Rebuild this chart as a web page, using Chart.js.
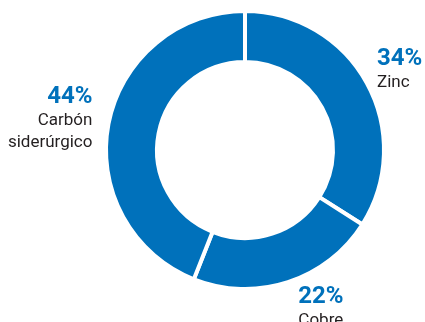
<!DOCTYPE html>
<html>
<head>
<meta charset="utf-8">
<script src="https://cdn.jsdelivr.net/npm/chart.js@4"></script>
<style>
  html, body { margin: 0; padding: 0; background: #fff; }
  #wrap { width: 425px; height: 322px; }
</style>
</head>
<body>
<div id="wrap"><canvas id="mix"></canvas></div>
<script>
// values
const categories = ['Zinc', 'Cobre', 'Carbón siderúrgico'];
const shares = [34, 22, 44];
const nameLines = [['Zinc'], ['Cobre'], ['Carbón', 'siderúrgico']];

const BLUE = '#0071bb';

// label placement relative to each slice's outer mid point
const labelPlace = [
  { dx: 12, dy: -19, align: 'left' },
  { dx: 11, dy: 23, align: 'left' },
  { dx: -18, dy: -21, align: 'right' }
];

const outsideLabels = {
  id: 'outsideLabels',
  afterDatasetsDraw(chart) {
    const ctx = chart.ctx;
    const arcs = chart.getDatasetMeta(0).data;
    ctx.save();
    ctx.textBaseline = 'alphabetic';
    arcs.forEach((arc, i) => {
      const mid = (arc.startAngle + arc.endAngle) / 2;
      const r = arc.outerRadius - 2;
      const ax = arc.x + Math.cos(mid) * r;
      const ay = arc.y + Math.sin(mid) * r;
      const p = labelPlace[i];
      const x = ax + p.dx;
      let y = ay + p.dy;
      ctx.textAlign = p.align;
      ctx.fillStyle = BLUE;
      ctx.font = 'bold 24px Roboto';
      ctx.fillText(shares[i] + '%', x, y);
      ctx.fillStyle = '#231f20';
      ctx.font = '17px Roboto';
      nameLines[i].forEach(line => {
        y += 22;
        ctx.fillText(line, x, y);
      });
    });
    ctx.restore();
  }
};

new Chart(document.getElementById('mix').getContext('2d'), {
  type: 'doughnut',
  data: {
    labels: categories,
    datasets: [{
      data: shares,
      backgroundColor: BLUE,
      borderColor: '#ffffff',
      borderWidth: 4,
      hoverOffset: 0
    }]
  },
  options: {
    responsive: true,
    maintainAspectRatio: false,
    animation: false,
    cutout: '63.3%',
    layout: { padding: { left: 104, right: 39, top: 9, bottom: 31 } },
    plugins: {
      legend: { display: false },
      tooltip: { enabled: false }
    }
  },
  plugins: [outsideLabels]
});
</script>
</body>
</html>
